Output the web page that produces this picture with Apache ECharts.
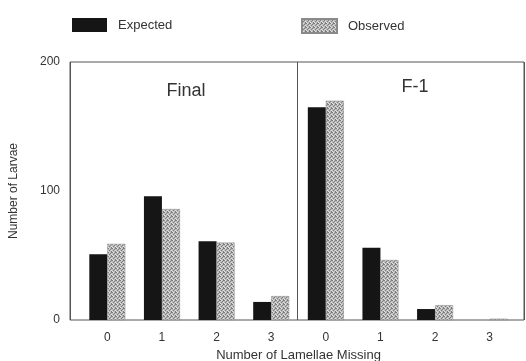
<!DOCTYPE html>
<html>
<head>
<meta charset="utf-8">
<script src="https://cdn.jsdelivr.net/npm/echarts@6/dist/echarts.min.js"></script>
<style>
html,body{margin:0;padding:0;background:#fff;}
#chart{width:526px;height:361px;}
</style>
</head>
<body>
<div id="chart"></div>
<script>
const categories = ['0', '1', '2', '3', '0', '1', '2', '3'];
const panelTitles = ['Final', 'F-1'];
const expected = [51, 96, 61, 14, 165, 56, 8.5, 0];
const observed = [59, 86, 60, 18.5, 170, 46.5, 11.5, 1];
const yTicks = [0, 100, 200];

// stipple pattern for "Observed"
function makePattern() {
  const c = document.createElement('canvas');
  c.width = 4; c.height = 4;
  const g = c.getContext('2d');
  g.fillStyle = '#bdbdbd';
  g.fillRect(0, 0, 4, 4);
  g.fillStyle = '#7c7c7c';
  [[0,0],[2,1],[1,2],[3,3],[3,0]].forEach(p => g.fillRect(p[0], p[1], 1, 1));
  g.fillStyle = '#e0e0e0';
  [[1,0],[3,2],[0,3]].forEach(p => g.fillRect(p[0], p[1], 1, 1));
  return c;
}
const pattern = makePattern();

const chart = echarts.init(document.getElementById('chart'), null, {renderer: 'canvas'});
const txt = '#333';
const font = 'Liberation Sans, Arial, Helvetica, sans-serif';

chart.setOption({
  animation: false,
  textStyle: {fontFamily: font, color: txt},
  legend: [
    {data: ['Expected'], left: 67, top: 13, itemWidth: 35, itemHeight: 14, icon: 'rect',
     textStyle: {fontSize: 13, color: txt, padding: [0, 0, 0, 6]}},
    {data: ['Observed'], left: 296, top: 13, itemWidth: 35, itemHeight: 14, icon: 'rect',
     textStyle: {fontSize: 13, color: txt, padding: [0, 0, 0, 6]}}
  ],
  title: [
    {text: panelTitles[0], left: 181, top: 77, textAlign: 'center',
     textStyle: {fontSize: 18, fontWeight: 'normal', color: txt, fontFamily: font}},
    {text: panelTitles[1], left: 410, top: 73, textAlign: 'center',
     textStyle: {fontSize: 18, fontWeight: 'normal', color: txt, fontFamily: font}}
  ],
  grid: [
    {left: 70, right: 2, top: 62, bottom: 41, show: true, borderColor: '#555', borderWidth: 1,
     backgroundColor: 'transparent', outerBoundsMode: 'none', containLabel: false},
    {left: 80, right: 9, top: 62, bottom: 41, outerBoundsMode: 'none', containLabel: false}
  ],
  xAxis: [
    {gridIndex: 0, type: 'value', min: 0, max: 2, interval: 1,
     axisLabel: {show: false}, axisLine: {show: false}, axisTick: {show: false},
     splitLine: {show: true, lineStyle: {color: '#555', width: 1}}},
    {gridIndex: 1, type: 'category', data: categories,
     axisLine: {show: false}, axisTick: {show: false},
     axisLabel: {color: txt, fontSize: 12, margin: 12},
     name: 'Number of Lamellae Missing', nameLocation: 'middle', nameGap: 29, nameMoveOverlap: false,
     nameTextStyle: {fontSize: 13, color: txt}}
  ],
  yAxis: [
    {gridIndex: 0, type: 'value', min: yTicks[0], max: yTicks[yTicks.length - 1], interval: 100,
     axisLine: {show: false}, axisTick: {show: false}, splitLine: {show: false},
     axisLabel: {color: txt, fontSize: 12, margin: 10},
     name: 'Number of Larvae', nameLocation: 'middle', nameGap: 50, nameRotate: 90, nameMoveOverlap: false,
     nameTextStyle: {fontSize: 12, color: txt}},
    {gridIndex: 1, type: 'value', min: 0, max: 200, show: false}
  ],
  series: [
    {name: 'Expected', type: 'bar', xAxisIndex: 1, yAxisIndex: 1, data: expected,
     barWidth: 18, barGap: '0%', itemStyle: {color: '#151515'}},
    {name: 'Observed', type: 'bar', xAxisIndex: 1, yAxisIndex: 1, data: observed,
     barWidth: 18, barGap: '0%',
     itemStyle: {color: {image: pattern, repeat: 'repeat'}, borderColor: '#8a8a8a', borderWidth: 0.5}}
  ]
});
</script>
</body>
</html>
